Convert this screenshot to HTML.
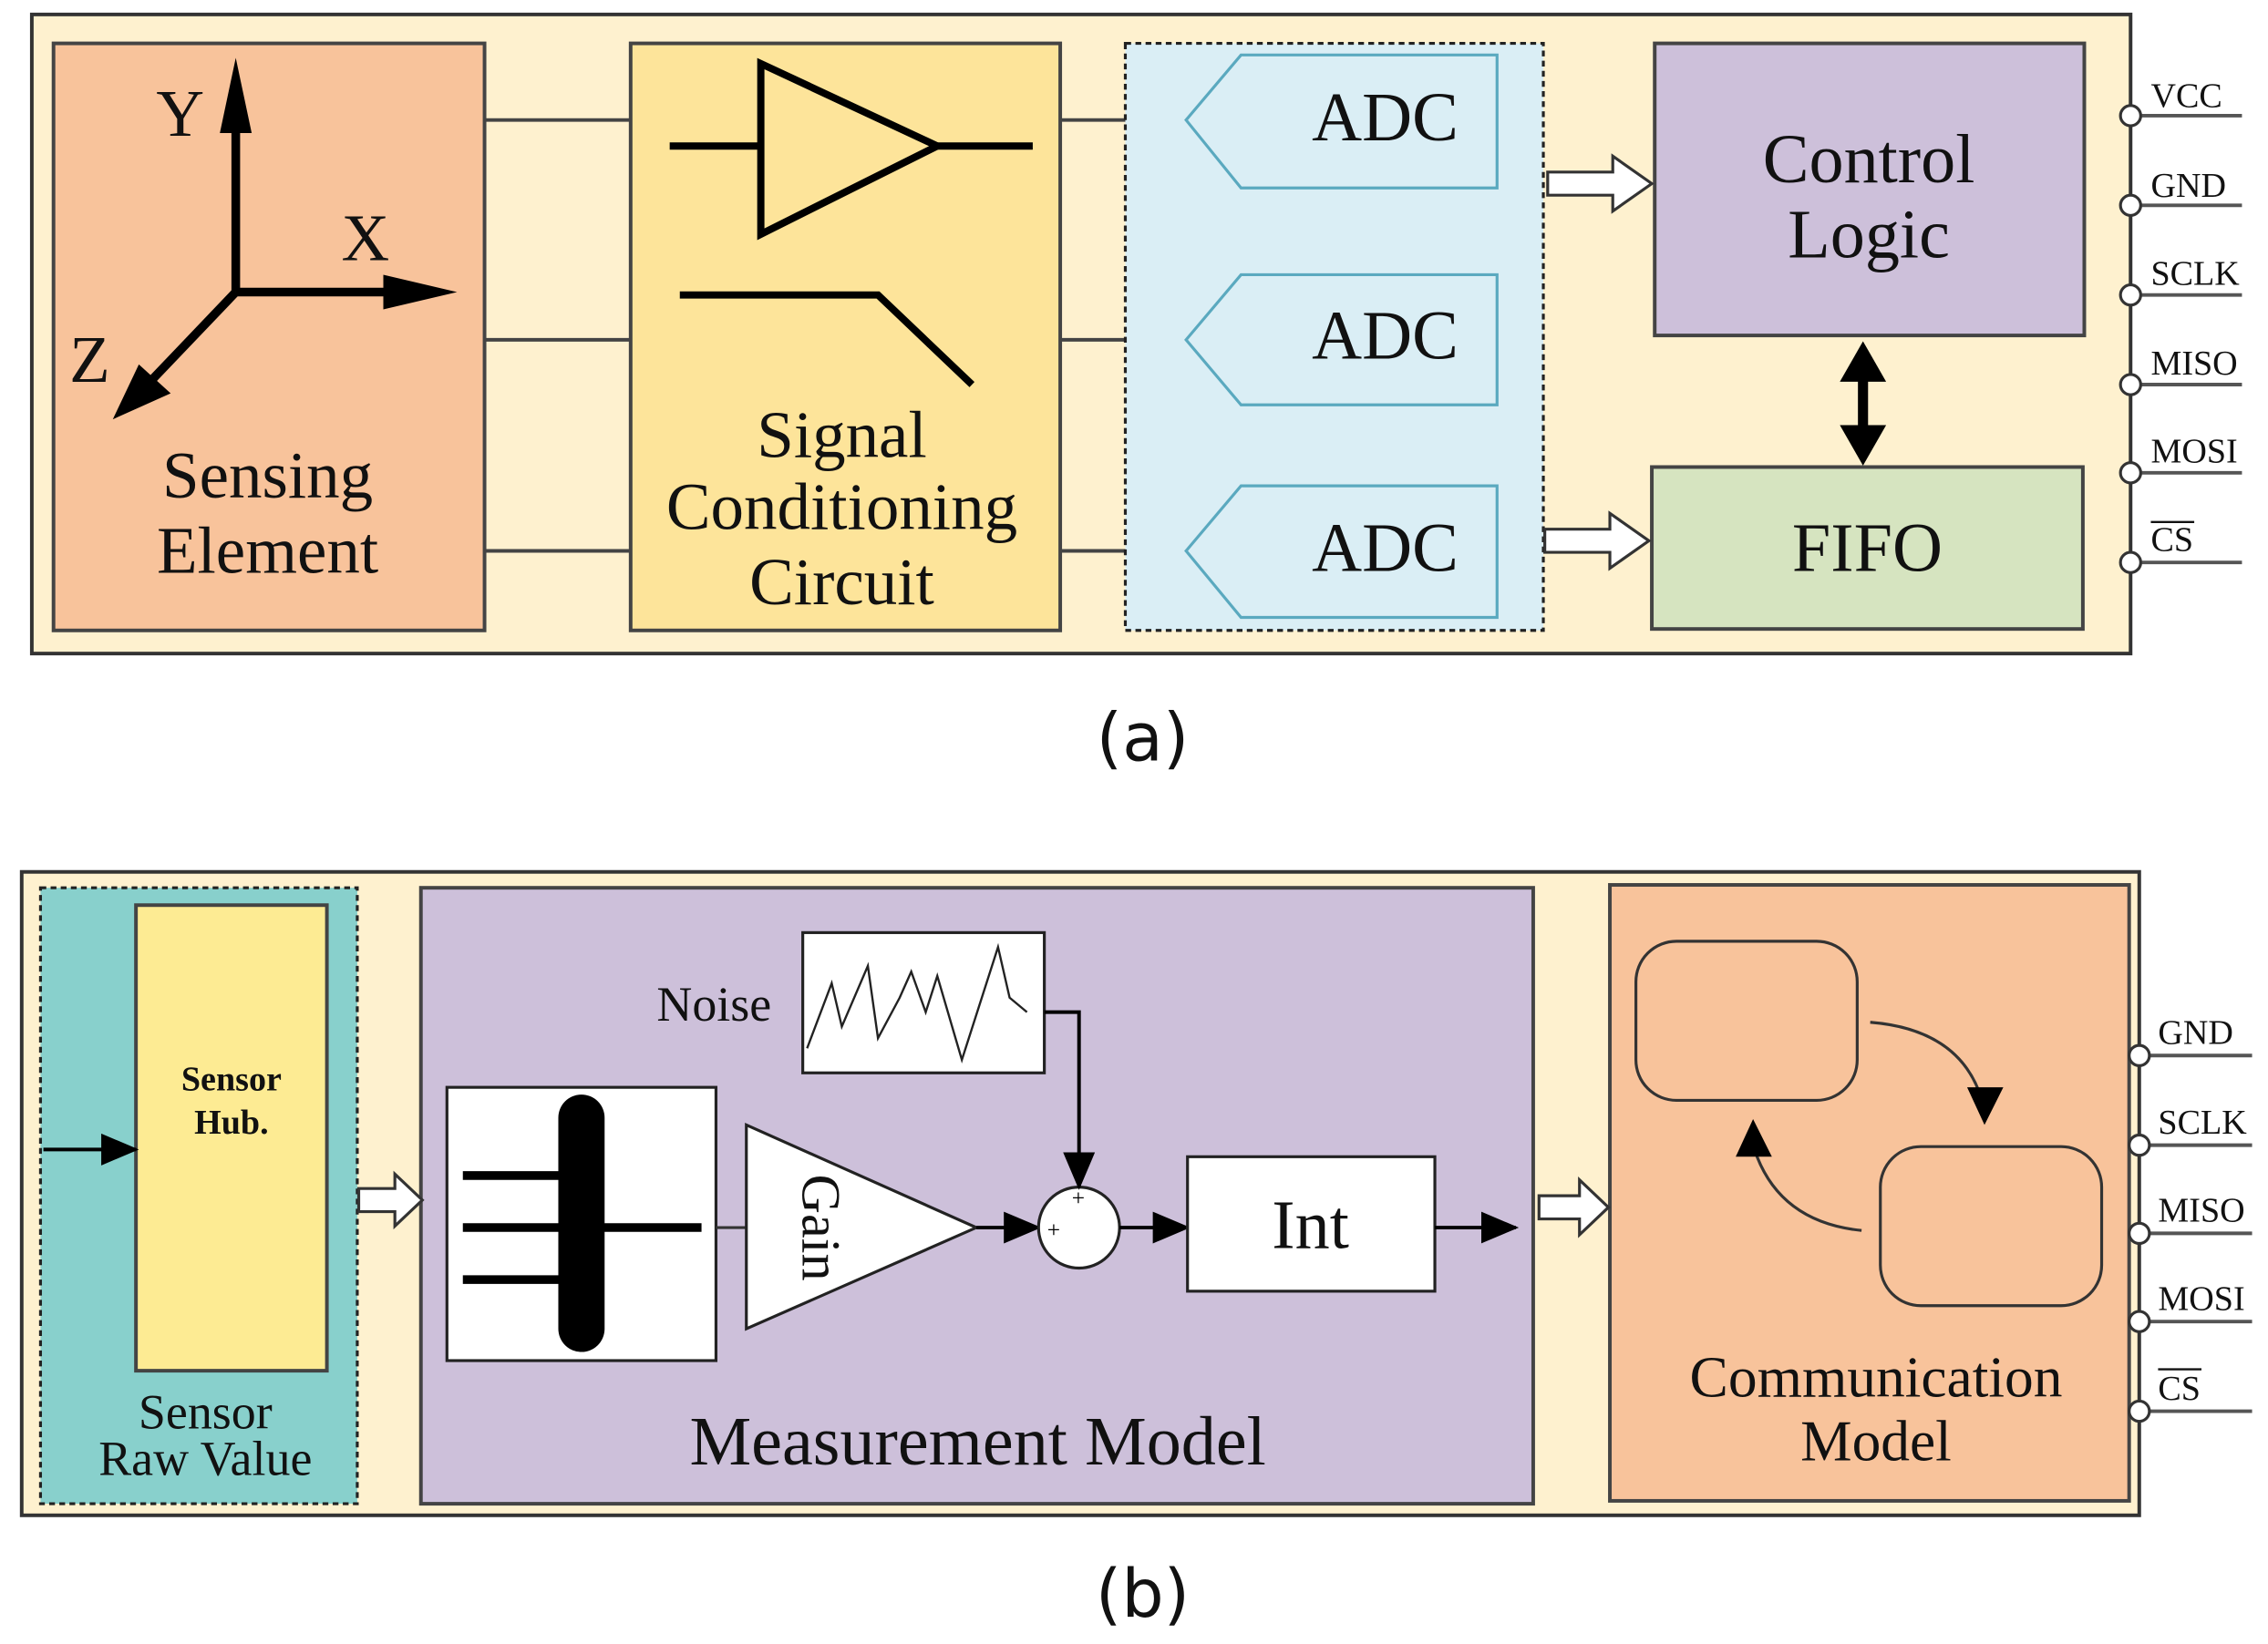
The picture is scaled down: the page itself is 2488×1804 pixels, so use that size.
<!DOCTYPE html>
<html><head><meta charset="utf-8"><style>html,body{margin:0;padding:0;background:#fff}svg{display:block}</style></head>
<body>
<svg width="2488" height="1804" viewBox="0 0 1568 1137" preserveAspectRatio="none" xmlns="http://www.w3.org/2000/svg" font-family="Liberation Serif, serif">
<defs>
<marker id="ah" markerWidth="26" markerHeight="22" refX="24" refY="11" orient="auto" markerUnits="userSpaceOnUse"><path d="M0,0 L26,11 L0,22 z" fill="#000"/></marker>
</defs>
<!-- Panel a -->
<rect x="22" y="10" width="1451" height="442" fill="#fef1cf" stroke="#333" stroke-width="2.5"/>
<g stroke="#444" stroke-width="2.5">
<line x1="335" y1="83" x2="436" y2="83"/><line x1="335" y1="235" x2="436" y2="235"/><line x1="335" y1="381" x2="436" y2="381"/>
<line x1="733" y1="83" x2="820" y2="83"/><line x1="733" y1="235" x2="820" y2="235"/><line x1="733" y1="381" x2="820" y2="381"/>
</g>
<rect x="37" y="30" width="298" height="406" fill="#f8c39b" stroke="#444" stroke-width="2.5"/>
<rect x="436" y="30" width="297" height="406" fill="#fde49a" stroke="#444" stroke-width="2.5"/>
<rect x="778" y="30" width="289" height="406" fill="#daeef5" stroke="#222" stroke-width="2" stroke-dasharray="4,3"/>
<g fill="#daeef5" stroke="#5aa9bf" stroke-width="2">
<polygon points="820,83 858,38 1035,38 1035,130 858,130"/>
<polygon points="820,235 858,190 1035,190 1035,280 858,280"/>
<polygon points="820,381 858,336 1035,336 1035,427 858,427"/>
</g>
<g font-size="48" fill="#111"><text x="907" y="97">ADC</text><text x="907" y="248">ADC</text><text x="907" y="395">ADC</text></g>
<g stroke="#000" stroke-width="6" fill="none">
<line x1="163" y1="202" x2="163" y2="85"/><line x1="163" y1="202" x2="275" y2="202"/><line x1="163" y1="202" x2="100" y2="268"/>
</g>
<polygon points="163,40 152,92 174,92" fill="#000"/>
<polygon points="316,202 265,190 265,214" fill="#000"/>
<polygon points="78,290 96,252 118,272" fill="#000"/>
<g font-size="46" fill="#111"><text x="108" y="94">Y</text><text x="236" y="180">X</text><text x="48" y="264">Z</text></g>
<g font-size="46" fill="#111" text-anchor="middle"><text x="185" y="344">Sensing</text><text x="185" y="396">Element</text>
<text x="582" y="316">Signal</text><text x="582" y="366">Conditioning</text><text x="582" y="418">Circuit</text></g>
<polygon points="526,44 526,162 648,101" fill="#fde49a" stroke="#000" stroke-width="5"/>
<g stroke="#000" stroke-width="5" fill="none"><line x1="463" y1="101" x2="526" y2="101"/><line x1="648" y1="101" x2="714" y2="101"/>
<polyline points="470,204 607,204 672,266"/></g>
<rect x="1144" y="30" width="297" height="202" fill="#cdc0da" stroke="#444" stroke-width="2.5"/>
<rect x="1142" y="323" width="298" height="112" fill="#d6e4c0" stroke="#444" stroke-width="2.5"/>
<g font-size="48" fill="#111" text-anchor="middle"><text x="1292" y="126">Control</text><text x="1292" y="178">Logic</text><text x="1291" y="395">FIFO</text></g>
<g fill="#fff" stroke="#333" stroke-width="2">
<polygon points="1070,119 1115,119 1115,108 1142,127 1115,146 1115,135 1070,135"/>
<polygon points="1068,366 1113,366 1113,355 1140,374 1113,393 1113,382 1068,382"/>
</g>
<line x1="1288" y1="258" x2="1288" y2="300" stroke="#000" stroke-width="7"/>
<polygon points="1288,236 1272,264 1304,264" fill="#000"/><polygon points="1288,322 1272,294 1304,294" fill="#000"/>
<g stroke="#555" stroke-width="2.5">
<line x1="1480" y1="80" x2="1550" y2="80"/><line x1="1480" y1="142" x2="1550" y2="142"/><line x1="1480" y1="204" x2="1550" y2="204"/><line x1="1480" y1="266" x2="1550" y2="266"/><line x1="1480" y1="327" x2="1550" y2="327"/><line x1="1480" y1="389" x2="1550" y2="389"/>
</g>
<g fill="#fff" stroke="#333" stroke-width="2"><circle cx="1473" cy="80" r="7"/><circle cx="1473" cy="142" r="7"/><circle cx="1473" cy="204" r="7"/><circle cx="1473" cy="266" r="7"/><circle cx="1473" cy="327" r="7"/><circle cx="1473" cy="389" r="7"/></g>
<g font-size="24" fill="#111"><text x="1487" y="74">VCC</text><text x="1487" y="136">GND</text><text x="1487" y="197">SCLK</text><text x="1487" y="259">MISO</text><text x="1487" y="320">MOSI</text><text x="1487" y="381">CS</text></g>
<line x1="1487" y1="361" x2="1517" y2="361" stroke="#111" stroke-width="1.5"/>
<text x="790" y="526" font-family="DejaVu Sans, sans-serif" font-size="46" text-anchor="middle" fill="#111">(a)</text>

<!-- Panel b -->
<rect x="15" y="603" width="1464" height="445" fill="#fef1cf" stroke="#333" stroke-width="2.5"/>
<rect x="28" y="614" width="219" height="426" fill="#88d0cc" stroke="#222" stroke-width="2" stroke-dasharray="4,3"/>
<rect x="94" y="626" width="132" height="322" fill="#fdeb93" stroke="#444" stroke-width="2.5"/>
<g font-size="24" font-weight="bold" fill="#111" text-anchor="middle"><text x="160" y="754">Sensor</text><text x="160" y="784">Hub.</text></g>
<g font-size="34" fill="#111" text-anchor="middle"><text x="142" y="988">Sensor</text><text x="142" y="1020">Raw Value</text></g>
<line x1="30" y1="795" x2="94" y2="795" stroke="#000" stroke-width="2.5" marker-end="url(#ah)"/>
<rect x="291" y="614" width="769" height="426" fill="#cdc0da" stroke="#444" stroke-width="2.5"/>
<rect x="1113" y="612" width="359" height="426" fill="#f8c39b" stroke="#444" stroke-width="2.5"/>
<g fill="#fff" stroke="#333" stroke-width="2">
<polygon points="248,822 273,822 273,812 292,830 273,848 273,838 248,838"/>
<polygon points="1064,827 1092,827 1092,816 1112,835 1092,854 1092,843 1064,843"/>
</g>
<rect x="309" y="752" width="186" height="189" fill="#fff" stroke="#222" stroke-width="2"/>
<g stroke="#000" stroke-width="6"><line x1="320" y1="813" x2="402" y2="813"/><line x1="320" y1="849" x2="485" y2="849"/><line x1="320" y1="885" x2="402" y2="885"/></g>
<rect x="386" y="757" width="32" height="178" rx="16" fill="#000"/>
<line x1="495" y1="849" x2="516" y2="849" stroke="#333" stroke-width="2"/>
<polygon points="516,778 516,919 675,849" fill="#fff" stroke="#222" stroke-width="2"/>
<text x="555" y="849" font-size="38" fill="#111" transform="rotate(90 555 849)" text-anchor="middle">Gain</text>
<line x1="675" y1="849" x2="718" y2="849" stroke="#000" stroke-width="2.5" marker-end="url(#ah)"/>
<circle cx="746" cy="849" r="28" fill="#fff" stroke="#222" stroke-width="2"/>
<g font-size="16" fill="#000"><text x="741" y="834">+</text><text x="724" y="856">+</text></g>
<rect x="555" y="645" width="167" height="97" fill="#fff" stroke="#222" stroke-width="2"/>
<polyline points="558,725 575,680 582,710 600,668 607,718 622,690 630,672 640,700 648,675 665,733 690,655 698,690 710,700" fill="none" stroke="#222" stroke-width="1.5"/>
<text x="454" y="706" font-size="34" fill="#111">Noise</text>
<polyline points="722,700 746,700 746,821" fill="none" stroke="#000" stroke-width="2.5" marker-end="url(#ah)"/>
<line x1="774" y1="849" x2="821" y2="849" stroke="#000" stroke-width="2.5" marker-end="url(#ah)"/>
<rect x="821" y="800" width="171" height="93" fill="#fff" stroke="#222" stroke-width="2"/>
<text x="906" y="863" font-size="48" fill="#111" text-anchor="middle">Int</text>
<line x1="992" y1="849" x2="1048" y2="849" stroke="#000" stroke-width="2.5" marker-end="url(#ah)"/>
<text x="676" y="1013" font-size="48" fill="#111" text-anchor="middle">Measurement Model</text>
<g fill="none" stroke="#333" stroke-width="2"><rect x="1131" y="651" width="153" height="110" rx="28"/><rect x="1300" y="793" width="153" height="110" rx="28"/>
<path d="M1293,707 Q1355,712 1370,760"/><path d="M1287,851 Q1228,845 1212,792"/></g>
<polygon points="1360,752 1385,752 1372,778" fill="#000"/>
<polygon points="1200,800 1225,800 1212,774" fill="#000"/>
<g font-size="40" fill="#111" text-anchor="middle"><text x="1297" y="966">Communication</text><text x="1297" y="1010">Model</text></g>
<g stroke="#555" stroke-width="2.5">
<line x1="1485" y1="730" x2="1557" y2="730"/><line x1="1485" y1="792" x2="1557" y2="792"/><line x1="1485" y1="853" x2="1557" y2="853"/><line x1="1485" y1="914" x2="1557" y2="914"/><line x1="1485" y1="976" x2="1557" y2="976"/>
</g>
<g fill="#fff" stroke="#333" stroke-width="2"><circle cx="1479" cy="730" r="7"/><circle cx="1479" cy="792" r="7"/><circle cx="1479" cy="853" r="7"/><circle cx="1479" cy="914" r="7"/><circle cx="1479" cy="976" r="7"/></g>
<g font-size="24" fill="#111"><text x="1492" y="722">GND</text><text x="1492" y="784">SCLK</text><text x="1492" y="845">MISO</text><text x="1492" y="906">MOSI</text><text x="1492" y="968">CS</text></g>
<line x1="1492" y1="947" x2="1522" y2="947" stroke="#111" stroke-width="1.5"/>
<text x="790" y="1118" font-family="DejaVu Sans, sans-serif" font-size="46" text-anchor="middle" fill="#111">(b)</text>
</svg>
</body></html>
